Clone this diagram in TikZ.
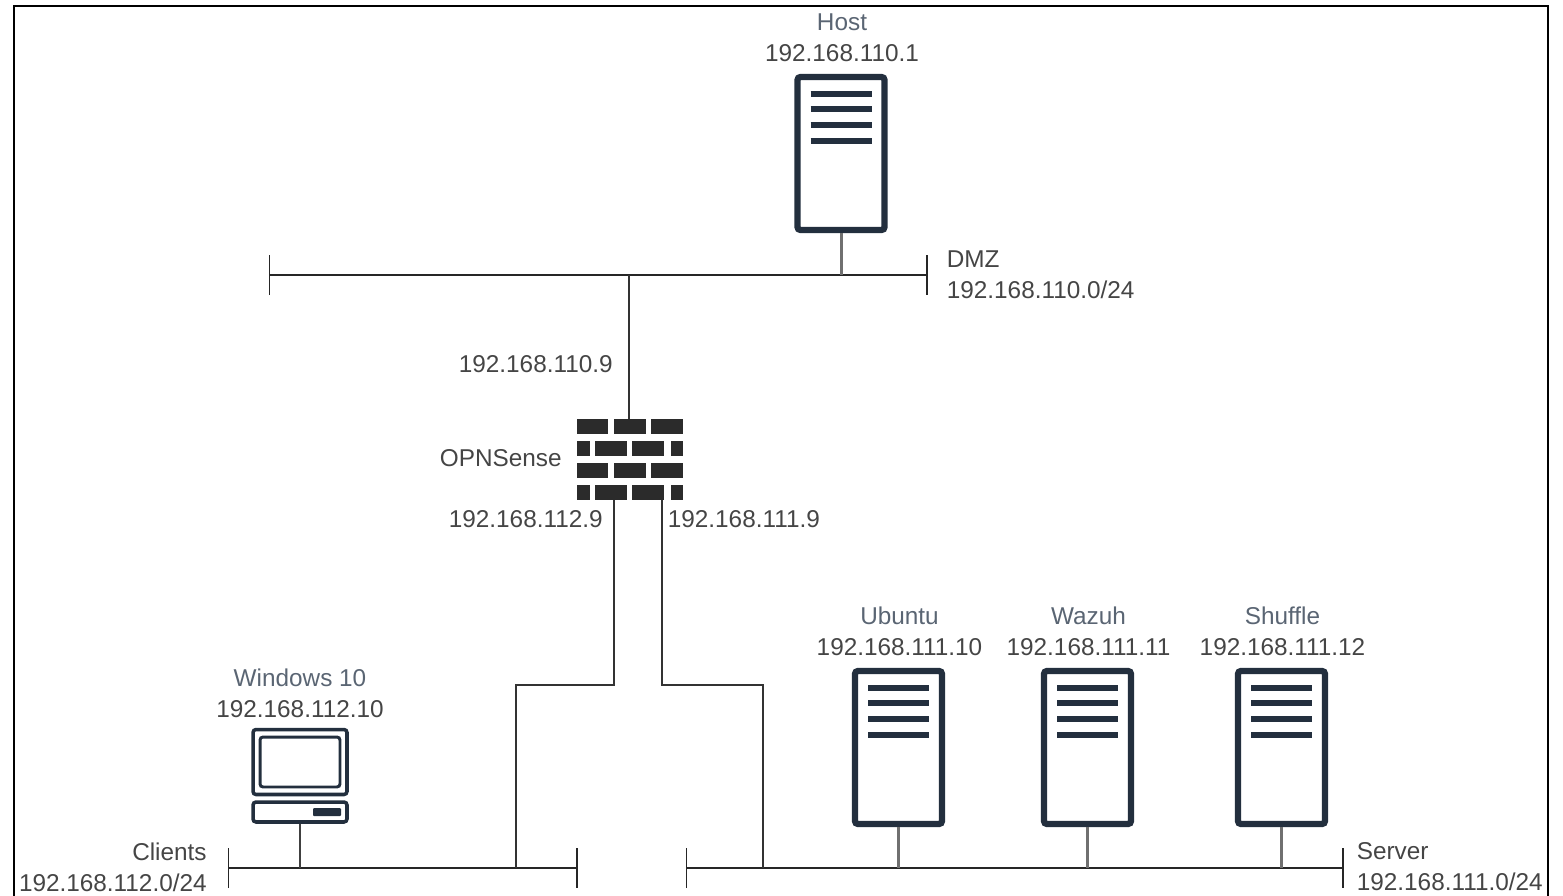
\documentclass[tikz,border=0pt]{standalone}
\usepackage{fontspec}
\setmainfont{Liberation Sans}
\usepackage{tikz}
\usetikzlibrary{arrows.meta}

\definecolor{icondark}{HTML}{232F3E}
\definecolor{stubgray}{HTML}{707070}
\definecolor{brickdark}{HTML}{2B2B2B}
\definecolor{labelgray}{HTML}{454545}
\definecolor{titleslate}{HTML}{5A6573}

\tikzset{
  busline/.style={line width=1.1pt, black!85, {Bar[width=0.8cm]}-{Bar[width=0.8cm]}},
  wire/.style={line width=1.1pt, black!80},
  stub/.style={line width=1.7pt, stubgray},
  servericon/.style={draw=icondark, line width=3.6pt, rounded corners=0.06cm, fill=white,
    minimum width=1.74cm, minimum height=3.06cm, inner sep=0pt},
  pcpart/.style={draw=icondark, line width=2pt, rounded corners=0.06cm, inner sep=0pt},
  brick/.style={fill=brickdark, draw=none},
  lbl/.style={text=labelgray, font=\fontsize{13.85}{17.6}\selectfont, inner sep=0pt}
}

\begin{document}
\begin{tikzpicture}[x=0.02cm, y=-0.02cm]
  \useasboundingbox (0,0) rectangle (1563,896);

  % Outer frame, open at the bottom
  \draw[line width=1.2pt, black] (14,896) -- (14,6) -- (1548,6) -- (1548,896);

  % The three network segments
  \coordinate (dmzleft) at (268.5,275);
  \coordinate (dmzright) at (928,275);
  \coordinate (clientsleft) at (227.5,868);
  \coordinate (clientsright) at (578,868);
  \coordinate (serverleft) at (685.5,868);
  \coordinate (serverright) at (1344,868);
  \draw[busline] (dmzleft) -- (dmzright);
  \draw[busline] (clientsleft) -- (clientsright);
  \draw[busline] (serverleft) -- (serverright);

  \node[lbl, anchor=west, align=left] (dmzlabel) at (946.5,274.5) {DMZ\\192.168.110.0/24};
  \node[lbl, anchor=east, align=right] (clientslabel) at (207,867) {Clients\\192.168.112.0/24};
  \node[lbl, anchor=west, align=left] (serverlabel) at (1356.5,867) {Server\\192.168.111.0/24};

  % Server icons with their stubs
  \foreach \srv/\cx/\cy/\srvname/\addr/\seg in {
    host/841/153.5/Host/192.168.110.1/dmzleft,
    ubuntu/898.5/747.5/Ubuntu/192.168.111.10/serverleft,
    wazuh/1087.5/747.5/Wazuh/192.168.111.11/serverleft,
    shuffle/1281.5/747.5/Shuffle/192.168.111.12/serverleft} {
    \node[servericon] (\srv) at (\cx,\cy) {};
    \foreach \bar in {-59.5,-44.5,-28.5,-12.5} {
      \draw[icondark, line width=3.1pt] (\cx-30.5,\cy+\bar) -- (\cx+30.5,\cy+\bar);
    }
    \node[lbl, align=center] (\srv label) at (\cx+1,\cy-116) {{\color{titleslate}\srvname}\\\addr};
    \draw[stub] (\srv.south) -- (\srv.south |- \seg);
  }

  % Firewall, brick by brick
  \node[inner sep=0pt, minimum width=2.12cm, minimum height=1.62cm] (firewall) at (630,459.5) {};
  \foreach \ya in {419,463} {
    \fill[brick] (577,\ya) rectangle (608,\ya+15);
    \fill[brick] (614,\ya) rectangle (646,\ya+15);
    \fill[brick] (651,\ya) rectangle (683,\ya+15);
  }
  \foreach \yb in {441,485} {
    \fill[brick] (577,\yb) rectangle (590,\yb+15);
    \fill[brick] (595,\yb) rectangle (627,\yb+15);
    \fill[brick] (632,\yb) rectangle (664,\yb+15);
    \fill[brick] (671,\yb) rectangle (683,\yb+15);
  }
  \node[lbl, anchor=east] (fwname) at (562,458) {OPNSense};
  \node[lbl, anchor=east] (fwdmz) at (613,364) {192.168.110.9};
  \node[lbl, anchor=east] (fwclients) at (603,519) {192.168.112.9};
  \node[lbl, anchor=west] (fwserver) at (667.5,519) {192.168.111.9};

  % Firewall uplinks
  \coordinate (dmzdrop) at (629,275);
  \coordinate (clienttap) at (614,685);
  \coordinate (clientjoin) at (516,868);
  \coordinate (servertap) at (662,685);
  \coordinate (serverjoin) at (763,868);
  \draw[wire] (dmzdrop) -- (dmzdrop |- firewall.north);
  \draw[wire] (clienttap |- firewall.south) -- (clienttap) -- (clientjoin |- clienttap) -- (clientjoin);
  \draw[wire] (servertap |- firewall.south) -- (servertap) -- (serverjoin |- servertap) -- (serverjoin);

  % Client computer
  \node[pcpart, minimum width=1.88cm, minimum height=1.3cm] (winscreen) at (300,762) {};
  \node[pcpart, line width=1.7pt, minimum width=1.6cm, minimum height=1cm] (winpanel) at (300,762) {};
  \node[pcpart, minimum width=1.88cm, minimum height=0.4cm] (winbase) at (300,812) {};
  \fill[icondark, rounded corners=0.02cm] (313,808) rectangle (341,816);
  \node[lbl, align=center] (winlabel) at (300,693) {{\color{titleslate}Windows 10}\\192.168.112.10};
  \draw[stub, line width=1.3pt, black!75] (winbase.south) -- (winbase.south |- clientsleft);
\end{tikzpicture}
\end{document}
